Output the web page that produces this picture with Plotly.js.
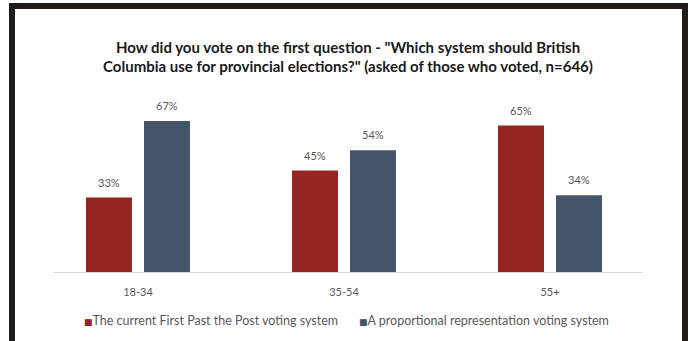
<!DOCTYPE html>
<html>
<head>
<meta charset="utf-8">
<script src="https://cdn.plot.ly/plotly-3.0.1.min.js"></script>
<style>
  html, body { margin: 0; padding: 0; background: #ffffff; }
  #wrap { position: relative; width: 689px; height: 341px; overflow: hidden; }
  #chart { position: absolute; left: 0; top: 0; width: 689px; height: 341px; }
  #frame { position: absolute; left: 9px; top: 3px; width: 667px; height: 335px;
           border: 6px solid #1f1b19; pointer-events: none; }
</style>
</head>
<body>
<div id="wrap">
  <div id="chart"></div>
  <div id="frame"></div>
</div>
<script>
const categories = ["18-34", "35-54", "55+"];
const fptpValues = [33, 45, 65];
const prValues = [67, 54, 34];
const seriesNames = ["The current First Past the Post voting system", "A proportional representation voting system"];
const titleText = 'How did you vote on the first question - "Which system should British<br>Columbia use for provincial elections?" (asked of those who voted, n=646)';

const colors = ["#962422", "#44546a"];
const bargap = 0.437, bargroupgap = 0.207;
const slot = (1 - bargap) / 2;
const font = "Lato, 'Open Sans', sans-serif";
const legendX = [0.049, 0.515];

const traces = [
  { type: "bar", name: seriesNames[0], x: categories, y: fptpValues, marker: { color: colors[0] }, hoverinfo: "none", showlegend: false },
  { type: "bar", name: seriesNames[1], x: categories, y: prValues, marker: { color: colors[1] }, hoverinfo: "none", showlegend: false }
];

const annotations = [];
[fptpValues, prValues].forEach((vals, s) => {
  vals.forEach((v, i) => {
    annotations.push({
      x: i + (s === 0 ? -slot / 2 : slot / 2), y: v, xref: "x", yref: "y",
      text: v + "%", showarrow: false, yanchor: "bottom", yshift: 7,
      font: { family: font, size: 11, color: "#595959" }
    });
  });
});
seriesNames.forEach((nm, s) => {
  annotations.push({
    x: legendX[s], y: -0.264, xref: "paper", yref: "paper", xanchor: "left", yanchor: "middle",
    showarrow: false,
    text: '<span style="color:' + colors[s] + ';font-size:9px;font-family:DejaVu Sans">■</span>' + nm,
    font: { family: font, size: 12.5, color: "#595959" }
  });
});

const layout = {
  width: 689, height: 341,
  margin: { l: 53, r: 46, t: 90, b: 69 },
  paper_bgcolor: "#ffffff", plot_bgcolor: "#ffffff",
  barmode: "group", bargap: bargap, bargroupgap: bargroupgap,
  title: { text: titleText, x: 0.5, xref: "paper", xanchor: "center", y: 0.846, yref: "container", yanchor: "top",
           font: { family: font, size: 15, color: "#1a1a1a", weight: "bold" } },
  xaxis: { type: "category", range: [-0.4126, 2.4515], showgrid: false, zeroline: false,
           showline: true, linecolor: "#d9d9d9", linewidth: 1, ticks: "", ticklabelstandoff: 10,
           tickfont: { family: font, size: 11, color: "#595959" }, fixedrange: true },
  yaxis: { range: [0, 80.75], visible: false, fixedrange: true },
  showlegend: false,
  annotations: annotations
};

Plotly.newPlot("chart", traces, layout, { displayModeBar: false, staticPlot: true });
</script>
</body>
</html>
